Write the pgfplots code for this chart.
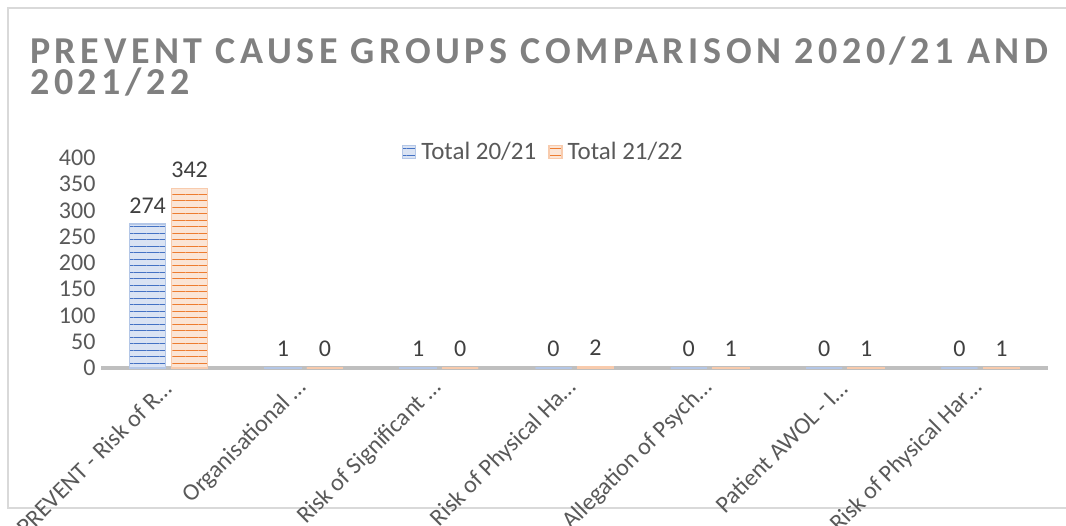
\documentclass[border=0pt]{standalone}
\usepackage{fontspec}
\setmainfont{Carlito}
\newfontfamily\titlefont[LetterSpace=12]{Carlito}
\usepackage{pgfplots}
\pgfplotsset{compat=1.18}
\usetikzlibrary{patterns.meta}
\definecolor{bluefill}{HTML}{DAE3F3}
\definecolor{blueline}{HTML}{4472C4}
\definecolor{blueedge}{HTML}{B4C7E7}
\definecolor{orangefill}{HTML}{FBE5D6}
\definecolor{orangeline}{HTML}{ED7D31}
\definecolor{orangeedge}{HTML}{F8CBAD}
\definecolor{txt}{HTML}{595959}
\definecolor{lbl}{HTML}{404040}
\definecolor{ttl}{HTML}{808080}
\begin{document}
\begin{tikzpicture}[x=1bp,y=1bp]
\useasboundingbox (0,0) rectangle (1066,526);
\draw[color=black!15, line width=1.2bp] (1066,518) -- (8,518) -- (8,18) -- (1066,18);
\node[anchor=base west, inner sep=0, align=left, font=\titlefont\bfseries\fontsize{38bp}{31bp}\selectfont, text=ttl] at (30,431)
  {PREVENT CAUSE GROUPS COMPARISON 2020/21 AND\\2021/22};
\begin{axis}[
  at={(101bp,158bp)}, anchor=south west,
  scale only axis, width=947bp, height=210bp,
  xmin=-0.5, xmax=6.5, ymin=0, ymax=400,
  ytick={0,50,...,400},
  xtick={0,...,6},
  xticklabels={PREVENT - Risk of R…, Organisational …, Risk of Significant …, Risk of Physical Ha…, Allegation of Psych…, Patient AWOL - I…, Risk of Physical Har…},
  axis line style={draw=none},
  major tick length=0pt,
  tick style={draw=none},
  /pgf/number format/assume math mode=true,
  yticklabel style={font=\fontsize{24bp}{24bp}\selectfont, text=txt, xshift=-2bp},
  xticklabel style={font=\fontsize{24bp}{24bp}\selectfont, text=txt, xshift=1bp, yshift=-14bp, rotate=45, anchor=east},
  ybar, bar width=36bp,
  nodes near coords,
  every node near coord/.append style={font=\fontsize{24bp}{24bp}\selectfont, text=lbl, yshift=7bp},
  legend columns=2,
  legend style={at={(0.467,1.029)}, anchor=center, draw=none, fill=none,
    font=\fontsize{25bp}{25bp}\selectfont, text=txt,
    /tikz/every odd column/.append style={column sep=3bp},
    /tikz/every even column/.append style={column sep=10bp}},
  legend image code/.code={\draw[#1, draw=none] (0bp,-6.5bp) rectangle (13bp,6.5bp);},
  clip=false,
]
\draw[color=black!25, line width=3.5bp] (axis cs:-0.5,0) -- (axis cs:6.5,0);
\addplot[bar shift=-21bp, fill=bluefill, draw=blueedge, line width=1.5bp,
  postaction={pattern={Lines[angle=0,distance=6.5bp,line width=1bp]}, pattern color=blueline}]
  coordinates {(0,274) (1,1) (2,1) (3,0) (4,0) (5,0) (6,0)};
\addplot[bar shift=21bp, fill=orangefill, draw=orangeedge, line width=1.5bp,
  postaction={pattern={Lines[angle=0,distance=6.5bp,line width=1bp]}, pattern color=orangeline}]
  coordinates {(0,342) (1,0) (2,0) (3,2) (4,1) (5,1) (6,1)};
\legend{Total 20/21, Total 21/22}
\end{axis}
\end{tikzpicture}
\end{document}
